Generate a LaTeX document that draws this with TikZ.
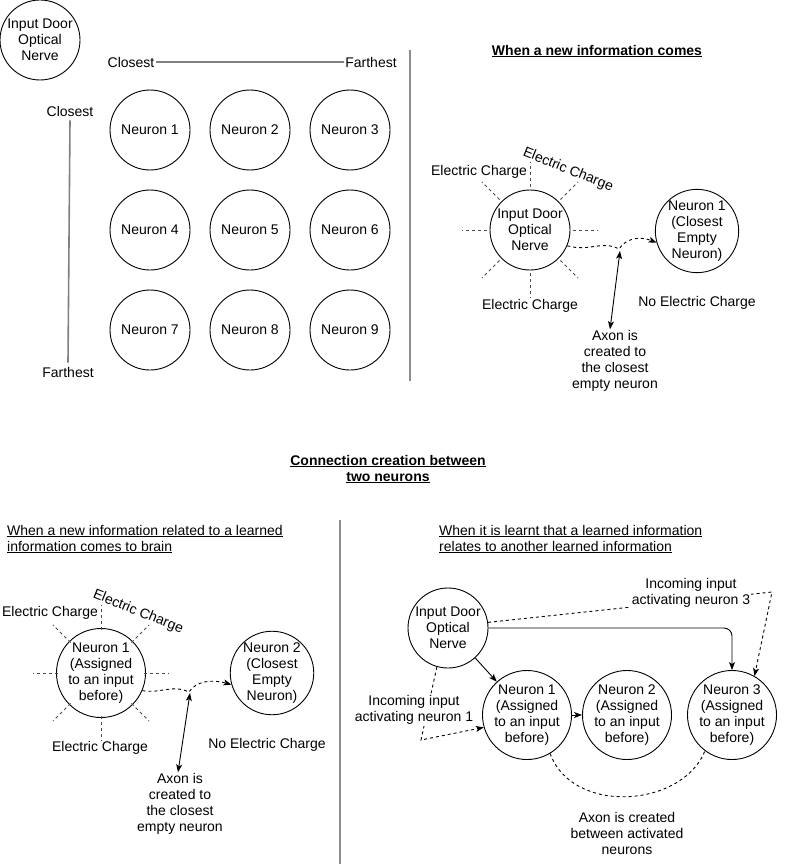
\documentclass[tikz,border=0pt]{standalone}
\usepackage{fontspec}
\setmainfont{Liberation Sans}
\usetikzlibrary{arrows.meta}
\tikzset{
  neuron/.style={circle, draw, line width=0.9pt, minimum size=80pt, inner sep=0pt, align=center},
  txt/.style={align=center, inner sep=1pt},
  ray/.style={draw=black!70, dash pattern=on 3pt off 3pt, line width=0.9pt},
  wire/.style={line width=0.9pt, -{Stealth[length=8pt,width=6pt,inset=2pt]}},
  dwire/.style={wire, dash pattern=on 3pt off 3pt},
  sep/.style={draw=black!45, line width=1.6pt}
}
\begin{document}
\begin{tikzpicture}[x=1pt, y=-1pt, font=\fontsize{14}{16}\selectfont]
\useasboundingbox (0,0) rectangle (787,864);
% grid of neurons
\node[neuron] (ID) at (40,40) {Input Door\\Optical\\Nerve};
\node[txt] (cT) at (131,62) {Closest};
\node[txt] (fT) at (371,62) {Farthest};
\draw[draw=black!50, line width=1.2pt] (cT) -- (fT);
\node[txt] (cL) at (70,111) {Closest};
\node[txt] (fL) at (68,372) {Farthest};
\draw[draw=black!50, line width=1.6pt] ([yshift=-3pt]cL.south) -- ([yshift=3pt]fL.north);
\node[neuron] (n1) at (150,130) {Neuron 1};
\node[neuron] (n2) at (250,130) {Neuron 2};
\node[neuron] (n3) at (350,130) {Neuron 3};
\node[neuron] (n4) at (150,230) {Neuron 4};
\node[neuron] (n5) at (250,230) {Neuron 5};
\node[neuron] (n6) at (350,230) {Neuron 6};
\node[neuron] (n7) at (150,330) {Neuron 7};
\node[neuron] (n8) at (250,330) {Neuron 8};
\node[neuron] (n9) at (350,330) {Neuron 9};
\draw[sep] (410,50) -- (410,381);
% new information
\node[txt] (tA) at (597,51) {\underline{\textbf{When a new information comes}}};
\node[neuron] (IDa) at (530,230) {Input Door\\Optical\\Nerve};
\foreach \a in {0,45,...,315}
  \draw[ray] (IDa) ++(\a:43) -- ++(\a:25);
\node[txt] (ecA1) at (479,172) {Electric Charge};
\node[txt, rotate=-22] (ecA2) at (568,170) {Electric Charge};
\node[txt] (ecA3) at (530,306) {Electric Charge};
\node[neuron] (NEa) at (697,231) {Neuron 1\\(Closest\\Empty\\Neuron)};
\node[txt] (noA) at (697,303) {No Electric Charge};
\draw[dwire] (IDa.-23) .. controls (590,252) and (602,240) .. (619,249)
  .. controls (626,238) and (640,236) .. (NEa.-164);
\coordinate (axA) at (620,251);
\node[txt] (axtA) at (615,361) {Axon is\\created to\\the closest\\empty neuron};
\draw[line width=0.9pt, {Stealth[length=8pt,width=6pt,inset=2pt]}-{Stealth[length=8pt,width=6pt,inset=2pt]}] (axA) -- ([xshift=-5pt]axtA.north);
% connection creation
\node[txt] (tB) at (388,469) {\underline{\textbf{Connection creation between}}\\\underline{\textbf{two neurons}}};
\draw[sep] (340,520) -- (340,864);
% related information
\node[txt, anchor=west, align=left] (tC) at (6,539) {\underline{When a new information related to a learned}\\\underline{information comes to brain}};
\node[neuron] (N1c) at (101,673) {Neuron 1\\(Assigned\\to an input\\before)};
\foreach \a in {0,45,...,315}
  \draw[ray] (N1c) ++(\a:43) -- ++(\a:25);
\node[txt] (ecC1) at (50,613) {Electric Charge};
\node[txt, rotate=-22] (ecC2) at (138,612) {Electric Charge};
\node[txt] (ecC3) at (100,748) {Electric Charge};
\node[neuron] (N2c) at (272,673) {Neuron 2\\(Closest\\Empty\\Neuron)};
\node[txt] (noC) at (267,745) {No Electric Charge};
\draw[dwire] (N1c.-23) .. controls (160,694) and (172,684) .. (189,692)
  .. controls (196,681) and (212,679) .. (N2c.-164);
\coordinate (axC) at (190,693);
\node[txt] (axtC) at (180,804) {Axon is\\created to\\the closest\\empty neuron};
\draw[line width=0.9pt, {Stealth[length=8pt,width=6pt,inset=2pt]}-{Stealth[length=8pt,width=6pt,inset=2pt]}] (axC) -- ([xshift=-2pt]axtC.north);
% learned information
\node[txt, anchor=west, align=left] (tD) at (438,539) {\underline{When it is learnt that a learned information}\\\underline{relates to another learned information}};
\node[neuron] (IDd) at (448,628) {Input Door\\Optical\\Nerve};
\node[neuron] (N1d) at (527,715) {Neuron 1\\(Assigned\\to an input\\before)};
\node[neuron] (N2d) at (627,715) {Neuron 2\\(Assigned\\to an input\\before)};
\node[neuron] (N3d) at (732,715) {Neuron 3\\(Assigned\\to an input\\before)};
\draw[wire] (IDd) -- (N1d);
\draw[wire] (N1d) -- (N2d);
\draw[wire, rounded corners=8pt] (IDd.east) -| (N3d.north);
\coordinate (up3) at (772,592);
\draw[dwire] (IDd.8) -- (up3) -- (N3d.60);
\node[txt, fill=white] (in3) at (691,593) {Incoming input\\activating neuron 3};
\coordinate (lo1) at (421,740);
\draw[dwire] (IDd.-106) -- (lo1) -- (N1d.196);
\node[txt, fill=white] (in1) at (414,710) {Incoming input\\activating neuron 1};
\draw[line width=0.9pt, dash pattern=on 3pt off 3pt] (N1d.-59) .. controls (572,815) and (682,808) .. (N3d.-127);
\node[txt] (axtD) at (627,833) {Axon is created\\between activated\\neurons};
\end{tikzpicture}
\end{document}
